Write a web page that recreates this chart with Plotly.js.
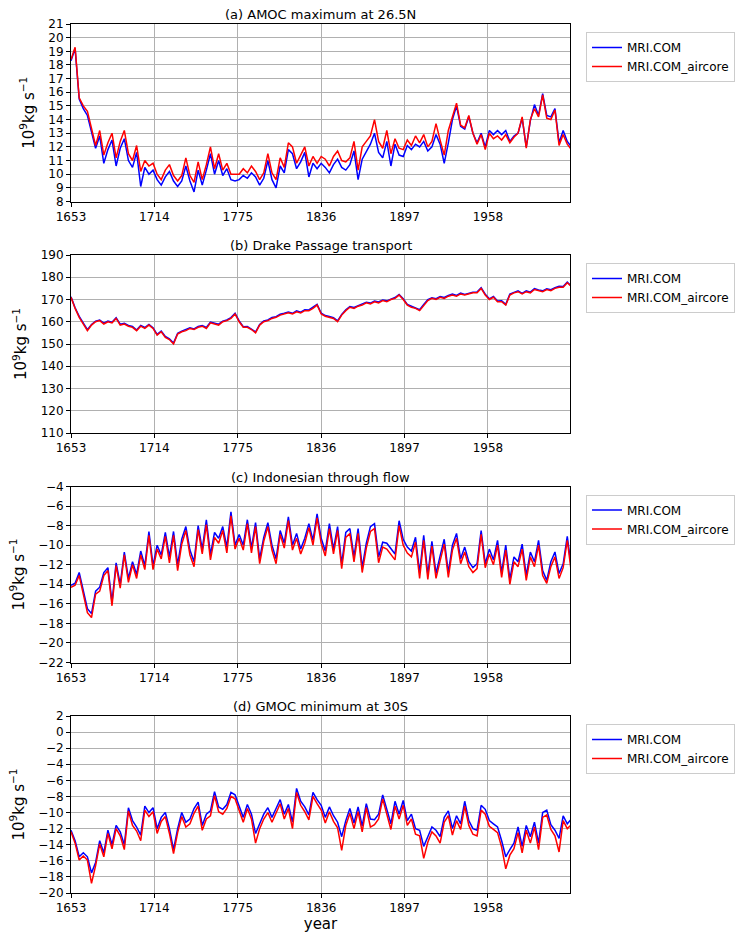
<!DOCTYPE html>
<html><head><meta charset="utf-8">
<script src="https://cdn.plot.ly/plotly-3.0.1.min.js"></script>
<style>html,body{margin:0;padding:0;background:#fff}#chart{width:739px;height:933px}</style>
</head><body><div id="chart"></div><script>
const years = [1653,1656,1659,1662,1665,1668,1671,1674,1677,1680,1683,1686,1689,1692,1695,1698,1701,1704,1707,1710,1713,1716,1719,1722,1725,1728,1731,1734,1737,1740,1743,1746,1749,1752,1755,1758,1761,1764,1767,1770,1773,1776,1779,1782,1785,1788,1791,1794,1797,1800,1803,1806,1809,1812,1815,1818,1821,1824,1827,1830,1833,1836,1839,1842,1845,1848,1851,1854,1857,1860,1863,1866,1869,1872,1875,1878,1881,1884,1887,1890,1893,1896,1899,1902,1905,1908,1911,1914,1917,1920,1923,1926,1929,1932,1935,1938,1941,1944,1947,1950,1953,1956,1959,1962,1965,1968,1971,1974,1977,1980,1983,1986,1989,1992,1995,1998,2001,2004,2007,2010,2013,2016,2019];

// (a) AMOC maximum at 26.5N
const amocBase = [18.3,19.2,15.5,14.8,14.3,13.0,11.9,12.8,10.8,11.8,12.5,10.6,11.9,12.6,11.0,10.5,11.6,9.1,10.5,10.0,10.3,9.6,9.2,9.8,10.2,9.5,9.1,9.5,10.6,9.5,8.7,10.3,9.2,10.3,11.5,10.0,11.0,9.9,10.4,9.6,9.5,9.6,9.9,9.7,10.1,9.8,9.2,9.7,11.0,9.6,9.0,10.6,10.1,11.8,11.5,10.4,10.9,11.6,9.8,10.8,10.4,10.8,10.5,10.1,10.7,11.1,10.5,10.3,10.7,11.7,9.6,11.1,11.6,12.2,13.0,11.6,11.2,12.4,10.6,12.2,11.4,11.3,12.1,11.8,12.2,12.0,12.4,11.7,12.0,12.9,12.2,10.8,12.3,14.0,15.0,13.5,13.3,14.2,13.0,12.3,13.0,12.0,13.2,12.9,13.2,12.9,13.2,12.4,12.8,13.0,14.1,12.0,13.9,15.1,14.3,15.9,14.3,14.2,14.8,12.3,13.2,12.4,12.0];
const amocAir  = [18.4,19.3,15.6,15.0,14.6,13.3,12.1,13.2,11.4,12.3,13.0,11.2,12.4,13.2,11.5,11.0,12.1,10.2,11.0,10.6,10.8,10.0,9.6,10.3,10.7,9.9,9.5,9.9,11.2,9.9,9.4,10.9,9.6,10.7,12.0,10.4,11.5,10.3,10.8,10.0,10.0,10.0,10.4,10.1,10.6,10.2,9.6,10.1,11.5,10.1,9.6,11.2,10.5,12.3,12.0,10.8,11.4,12.0,10.6,11.3,10.8,11.3,11.1,10.6,11.3,11.7,11.0,10.9,11.2,12.4,10.3,12.0,12.4,12.8,14.0,12.4,11.9,13.2,11.5,12.6,11.9,11.8,12.5,12.1,12.8,12.3,12.9,12.0,12.4,13.7,12.5,11.4,13.2,14.2,15.2,13.6,13.4,14.3,13.0,12.2,12.9,11.8,13.0,12.6,12.8,12.5,12.9,12.3,12.7,13.0,14.2,11.9,14.0,14.8,14.2,15.8,14.1,14.0,14.7,12.1,12.9,12.2,11.8];

// (b) Drake Passage transport
const drakeBase = [171.2,166.3,162.4,159.3,156.4,158.8,160.3,160.8,159.4,160.3,159.8,161.8,158.9,159.3,158.3,157.9,156.3,158.3,157.4,158.8,157.3,154.3,155.8,153.4,152.3,150.4,154.8,155.8,156.4,157.3,156.8,157.9,158.3,157.4,159.8,159.3,158.9,160.3,160.8,161.9,163.8,160.4,157.8,157.9,156.8,155.4,158.8,160.4,160.8,161.9,162.3,163.4,163.8,164.4,163.8,164.9,164.3,165.4,165.3,166.4,167.8,163.9,162.8,162.4,161.8,160.4,163.3,165.4,166.8,166.4,167.3,167.9,168.8,168.4,169.3,168.9,169.8,169.4,170.3,170.9,172.3,170.4,167.8,166.9,166.3,165.4,167.8,169.9,170.8,170.4,171.3,170.9,171.8,172.4,171.8,172.9,172.3,172.9,173.3,173.4,175.3,172.4,170.3,171.4,169.3,169.4,167.8,172.4,173.3,173.9,172.8,173.9,173.3,174.9,174.3,173.9,174.8,174.4,175.3,175.9,175.8,177.8,176.1];
const drakeAir  = [171,166,162,159,156,158.5,160,160.5,159,160,159.5,161.5,158.5,159,158,157.5,156,158,157,158.5,157,154,155.5,153,152,150,154.5,155.5,156,157,156.5,157.5,158,157,159.5,159,158.5,160,160.5,161.5,163.5,160,157.5,157.5,156.5,155,158.5,160,160.5,161.5,162,163,163.5,164,163.5,164.5,164,165,165,166,167.5,163.5,162.5,162,161.5,160,163,165,166.5,166,167,167.5,168.5,168,169,168.5,169.5,169,170,170.5,172,170,167.5,166.5,166,165,167.5,169.5,170.5,170,171,170.5,171.5,172,171.5,172.5,172,172.5,173,173,175,172,170,171,169,169,167.5,172,173,173.5,172.5,173.5,173,174.5,174,173.5,174.5,174,175,175.5,175.5,177.5,175.8];

// (c) Indonesian through flow
const itfBase = [-14.1,-13.9,-12.8,-14.7,-16.5,-17.0,-14.7,-14.3,-12.8,-12.3,-15.8,-11.8,-14.0,-10.7,-13.4,-11.7,-13.0,-10.6,-12.1,-8.6,-12.1,-10.0,-11.0,-8.7,-11.2,-8.6,-12.0,-9.4,-8.1,-10.5,-11.7,-8.0,-10.4,-7.4,-11.0,-8.7,-9.3,-8.1,-10.2,-6.6,-10.0,-8.9,-10.0,-7.4,-10.3,-7.7,-11.4,-9.2,-7.7,-10.0,-11.4,-8.5,-9.8,-7.1,-10.0,-8.8,-10.4,-9.3,-7.8,-9.5,-6.8,-9.3,-10.6,-7.8,-10.4,-8.1,-11.9,-8.7,-8.3,-11.2,-8.3,-12.3,-9.8,-8.1,-7.8,-11.2,-9.7,-9.8,-10.4,-10.9,-7.5,-9.4,-10.2,-10.6,-9.2,-12.8,-9.0,-13.0,-9.6,-12.9,-11.1,-9.4,-12.8,-10.0,-8.8,-11.4,-10.2,-11.7,-12.3,-11.9,-8.5,-11.9,-10.4,-11.5,-9.5,-12.8,-10.0,-13.5,-11.2,-11.7,-9.9,-13.1,-10.7,-11.7,-9.5,-12.6,-13.6,-11.7,-10.7,-12.9,-11.9,-9.1,-12.3];
const itfAir  = [-14.3,-14.1,-13.1,-15.0,-16.9,-17.4,-15.0,-14.7,-13.1,-12.6,-16.2,-12.1,-14.4,-11.0,-13.8,-12.0,-13.4,-11.0,-12.5,-9.0,-12.5,-10.4,-11.4,-9.1,-11.8,-9.0,-12.6,-9.9,-8.5,-11.0,-12.2,-8.4,-10.9,-7.9,-11.5,-9.2,-9.8,-8.5,-10.8,-7.0,-10.4,-9.3,-10.5,-7.8,-10.8,-8.1,-11.9,-9.6,-8.1,-10.5,-11.9,-8.9,-10.3,-7.5,-10.5,-9.3,-10.9,-9.8,-8.2,-10.0,-7.2,-9.8,-11.1,-8.3,-10.9,-8.5,-12.4,-9.2,-8.8,-11.7,-8.8,-12.8,-10.3,-8.6,-8.3,-11.8,-10.2,-10.4,-11.0,-11.5,-8.0,-10.0,-10.8,-11.2,-9.7,-13.4,-9.5,-13.5,-10.1,-13.4,-11.6,-9.9,-13.3,-10.5,-9.3,-11.9,-10.7,-12.2,-12.8,-12.4,-8.9,-12.3,-10.9,-12.0,-10.0,-13.3,-10.5,-14.0,-11.7,-12.2,-10.4,-13.6,-11.2,-12.2,-10.0,-13.1,-13.9,-12.2,-11.2,-13.4,-12.3,-9.5,-12.8];

// (d) GMOC minimum at 30S
const gmocBase = [-12.2,-13.5,-15.5,-15.0,-15.5,-17.5,-16.2,-13.5,-15.0,-12.2,-14.0,-11.6,-12.4,-14.0,-9.4,-11.0,-11.8,-12.8,-9.2,-10.0,-9.4,-12.0,-10.6,-10.0,-12.0,-14.6,-12.0,-10.0,-11.2,-10.8,-9.5,-8.7,-11.6,-10.2,-9.8,-7.4,-9.3,-9.6,-9.0,-7.5,-7.8,-9.3,-10.6,-9.0,-10.2,-12.6,-11.4,-10.2,-9.4,-10.6,-9.5,-8.4,-10.2,-9.0,-11.2,-7.0,-8.6,-9.3,-10.3,-7.5,-8.4,-9.1,-10.6,-9.3,-10.4,-11.2,-13.0,-11.0,-9.5,-11.3,-9.3,-11.7,-8.9,-10.8,-10.9,-10.2,-7.8,-9.6,-11.4,-8.6,-10.2,-8.5,-11.0,-10.2,-12.0,-12.2,-14.2,-13.0,-11.8,-12.2,-13.0,-10.6,-9.8,-12.0,-10.4,-11.4,-8.6,-11.0,-12.0,-12.2,-9.1,-9.6,-11.0,-11.4,-11.8,-13.5,-15.5,-14.6,-13.8,-11.8,-14.2,-11.6,-13.0,-11.2,-13.8,-10.0,-9.7,-11.5,-12.2,-13.2,-10.4,-11.4,-10.8];
const gmocAir  = [-12.4,-13.8,-15.9,-15.4,-15.9,-18.8,-16.6,-13.9,-15.5,-12.6,-14.5,-12.0,-12.9,-14.6,-9.8,-11.6,-12.3,-13.5,-9.7,-10.5,-9.9,-12.6,-11.1,-10.5,-12.6,-15.1,-12.5,-10.5,-11.8,-11.4,-10.1,-9.2,-12.2,-10.8,-10.4,-7.9,-9.9,-10.2,-9.5,-8.0,-8.3,-9.9,-11.2,-9.5,-10.8,-13.8,-12.0,-10.8,-10.0,-11.2,-10.1,-8.9,-10.8,-9.5,-12.0,-7.5,-9.1,-9.9,-10.9,-8.0,-8.9,-9.7,-11.3,-9.9,-11.1,-11.9,-14.7,-11.6,-10.1,-12.0,-9.9,-12.4,-9.4,-11.8,-11.5,-10.8,-8.3,-10.2,-12.1,-9.2,-10.8,-9.1,-11.6,-10.8,-12.7,-12.9,-15.7,-13.7,-12.4,-12.9,-13.8,-11.2,-10.4,-12.8,-11.0,-12.1,-9.2,-11.6,-12.7,-12.9,-9.7,-10.2,-11.7,-12.1,-12.5,-14.3,-17.0,-15.3,-14.5,-12.5,-15.0,-12.2,-13.8,-11.8,-14.6,-10.6,-10.3,-12.1,-12.9,-14.9,-11.0,-12.0,-11.5];

const seriesNames = ['MRI.COM', 'MRI.COM_aircore'];
const panelTitles = ['(a) AMOC maximum at 26.5N', '(b) Drake Passage transport', '(c) Indonesian through flow', '(d) GMOC minimum at 30S'];
const xTickVals = [1653, 1714, 1775, 1836, 1897, 1958];
const yUnit = '10<sup>9</sup>kg s<sup>\u22121</sup>';

const baseSeries = [amocBase, drakeBase, itfBase, gmocBase];
const airSeries = [amocAir, drakeAir, itfAir, gmocAir];

// layout geometry (pixels)
const W = 739, H = 933;
const PX0 = 71, PX1 = 570;
const tops = [24, 255, 486.5, 716];
const bots = [201.5, 433, 662.5, 893];
const yRanges = [[8, 21], [110, 190], [-22, -4], [-20, 2]];
const yDticks = [1, 10, 2, 2];

const font = 'DejaVu Sans, sans-serif';
const traces = [];
const layout = {
  width: W, height: H,
  margin: {l: 0, r: 0, t: 0, b: 0},
  paper_bgcolor: '#fff', plot_bgcolor: '#fff',
  font: {family: font, size: 12, color: '#000'},
  showlegend: true,
  annotations: []
};

for (let i = 0; i < 4; i++) {
  const s = i === 0 ? '' : String(i + 1);
  const lg = 'legend' + s;
  traces.push({x: years, y: baseSeries[i], type: 'scatter', mode: 'lines', name: seriesNames[0],
    xaxis: 'x' + s, yaxis: 'y' + s, legend: lg, line: {color: '#0000ff', width: 1.5}});
  traces.push({x: years, y: airSeries[i], type: 'scatter', mode: 'lines', name: seriesNames[1],
    xaxis: 'x' + s, yaxis: 'y' + s, legend: lg, line: {color: '#ff0000', width: 1.5}});
  const yd = [1 - bots[i] / H, 1 - tops[i] / H];
  layout['xaxis' + s] = {
    domain: [PX0 / W, PX1 / W], anchor: 'y' + s, range: [1653, 2018],
    tickmode: 'array', tickvals: xTickVals, ticktext: xTickVals.map(String),
    showgrid: true, gridcolor: '#b0b0b0', gridwidth: 1, zeroline: false,
    showline: true, mirror: true, linecolor: '#000', linewidth: 1,
    ticks: 'outside', ticklen: 4, tickcolor: '#000',
    tickfont: {family: font, size: 12, color: '#000'}
  };
  if (i === 3) {
    layout['xaxis' + s].title = {text: 'year', font: {family: font, size: 15, color: '#000'}, standoff: 8};
  }
  layout['yaxis' + s] = {
    domain: yd, anchor: 'x' + s, range: yRanges[i], dtick: yDticks[i], tick0: yRanges[i][0],
    showgrid: true, gridcolor: '#b0b0b0', gridwidth: 1, zeroline: false,
    showline: true, mirror: true, linecolor: '#000', linewidth: 1,
    ticks: 'outside', ticklen: 4, tickcolor: '#000',
    tickfont: {family: font, size: 12, color: '#000'},
    title: {text: yUnit, font: {family: font, size: 15, color: '#000'}, standoff: 10}
  };
  layout[lg] = {
    x: 586 / W, xanchor: 'left', y: 1 - (tops[i] + 8) / H, yanchor: 'top',
    bgcolor: '#fff', bordercolor: '#cccccc', borderwidth: 1,
    font: {family: font, size: 12, color: '#000'}
  };
  layout.annotations.push({
    text: panelTitles[i], xref: 'paper', yref: 'paper',
    x: (PX0 + PX1) / 2 / W, y: 1 - tops[i] / H, xanchor: 'center', yanchor: 'bottom',
    showarrow: false, font: {family: font, size: 13, color: '#000'}
  });
}

Plotly.newPlot('chart', traces, layout, {displayModeBar: false, staticPlot: true});
</script></body></html>
